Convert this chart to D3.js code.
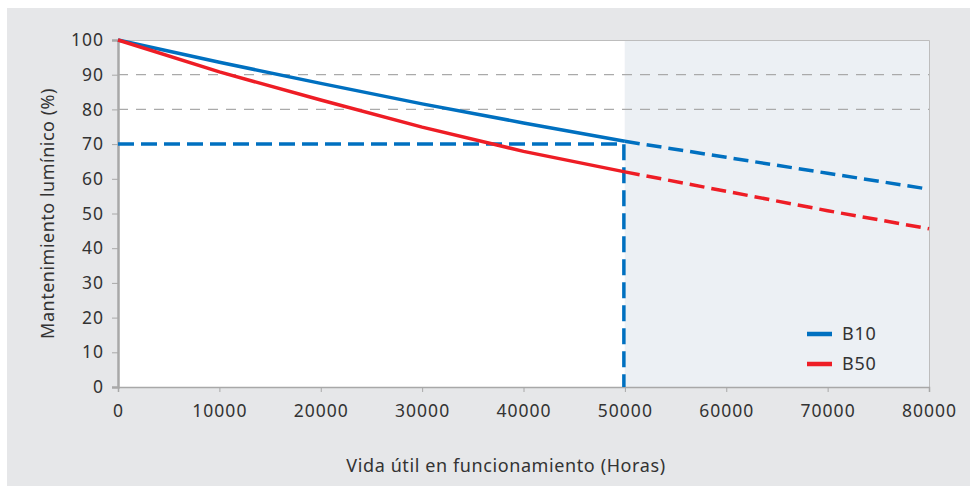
<!DOCTYPE html>
<html>
<head>
<meta charset="utf-8">
<script src="https://cdn.jsdelivr.net/npm/d3@7"></script>
<style>
  body { margin: 0; background: #fff; }
  svg text { font-family: "Noto Sans", "Open Sans", sans-serif; fill: #333; }
</style>
</head>
<body>
<svg id="chart" width="970" height="487"></svg>
<script>
// hours (x) and lumen maintenance (%)
const hours = [0, 10000, 20000, 30000, 40000, 50000]
const hoursExt = [50000, 60000, 70000, 80000]
const b10 = [100, 93.6, 87.5, 81.6, 76.1, 70.8]
const b10Ext = [70.8, 66.2, 61.6, 57.0]
const b50 = [100, 90.8, 82.7, 74.9, 67.9, 62.0]
const b50Ext = [62.0, 56.4, 50.8, 45.6]
const xTicks = [0, 10000, 20000, 30000, 40000, 50000, 60000, 70000, 80000]
const yTicks = [0, 10, 20, 30, 40, 50, 60, 70, 80, 90, 100]
const gridValues = [80, 90]
const ratedLife = 50000
const ratedLevel = 70
const legendItems = [{ name: "B10", color: "#0070c0" }, { name: "B50", color: "#ee1d25" }]

const svg = d3.select("#chart")
const pLeft = 118, pRight = 929, pTop = 40, pBottom = 387

const x = d3.scaleLinear().domain([0, 80000]).range([pLeft, pRight])
const y = d3.scaleLinear().domain([0, 100]).range([pBottom, pTop])

// backgrounds
svg.append("rect").attr("x", 7).attr("y", 8).attr("width", 963).attr("height", 478).attr("fill", "#e6e7e9")
svg.append("rect").attr("x", pLeft).attr("y", pTop).attr("width", x(ratedLife) - pLeft).attr("height", pBottom - pTop).attr("fill", "#ffffff")
svg.append("rect").attr("x", x(ratedLife)).attr("y", pTop).attr("width", pRight - x(ratedLife)).attr("height", pBottom - pTop).attr("fill", "#ecf0f4")

// frame top + right
svg.append("path")
  .attr("d", `M${pLeft},${pTop + 0.5}H${pRight + 0.5}V${pBottom}`)
  .attr("fill", "none").attr("stroke", "#bdbdbd").attr("stroke-width", 1)

// grid
svg.selectAll(".grid").data(gridValues).enter().append("line")
  .attr("x1", pLeft).attr("x2", pRight)
  .attr("y1", d => y(d)).attr("y2", d => y(d))
  .attr("stroke", "#aaaaaa").attr("stroke-width", 1.3).attr("stroke-dasharray", "10,8")

// axes
const yAxis = svg.append("g").attr("transform", `translate(${pLeft},0)`)
  .call(d3.axisLeft(y).tickValues(yTicks).tickSize(6).tickPadding(8))
const xAxis = svg.append("g").attr("transform", `translate(0,${pBottom})`)
  .call(d3.axisBottom(x).tickValues(xTicks).tickFormat(d3.format("d")).tickSize(5).tickPadding(13))
for (const ax of [xAxis, yAxis]) {
  ax.select(".domain").attr("stroke", "#a8a8a8").attr("stroke-width", 1.5)
  ax.selectAll(".tick line").attr("stroke", "#a8a8a8")
  ax.selectAll("text").attr("font-size", 17.5).attr("letter-spacing", "1px").attr("fill", "#333")
}
yAxis.select(".domain").attr("stroke-width", 2.5)

// rated life reference lines
svg.append("path")
  .attr("d", `M${pLeft},${y(ratedLevel)}H${x(ratedLife) - 1}V${pBottom}`)
  .attr("fill", "none").attr("stroke", "#0070c0").attr("stroke-width", 3.5)
  .attr("stroke-dasharray", "16,7")

// curves
const line = d3.line().x(d => x(d[0])).y(d => y(d[1]))
function curve(xs, ys, color, dashed) {
  svg.append("path")
    .datum(d3.zip(xs, ys))
    .attr("d", line)
    .attr("fill", "none").attr("stroke", color).attr("stroke-width", 3.5)
    .attr("stroke-dasharray", dashed ? "15,7" : null)
}
curve(hours, b10, legendItems[0].color, false)
curve(hours, b50, legendItems[1].color, false)
curve(hoursExt, b10Ext, legendItems[0].color, true)
curve(hoursExt, b50Ext, legendItems[1].color, true)

// legend
const leg = svg.selectAll(".leg").data(legendItems).enter().append("g")
  .attr("transform", (d, i) => `translate(807,${334 + i * 30})`)
leg.append("line").attr("x1", 0).attr("x2", 25).attr("stroke", d => d.color).attr("stroke-width", 4.5)
leg.append("text").attr("x", 35).attr("dy", "0.35em").attr("font-size", 18).attr("letter-spacing", "0.8px").text(d => d.name)

// titles
svg.append("text").attr("x", 506).attr("y", 472).attr("text-anchor", "middle")
  .attr("font-size", 18).attr("letter-spacing", "0.6px").text("Vida útil en funcionamiento (Horas)")
svg.append("text").attr("transform", `translate(54,${(pTop + pBottom) / 2}) rotate(-90)`).attr("text-anchor", "middle")
  .attr("font-size", 18).attr("letter-spacing", "0.5px").text("Mantenimiento lumínico (%)")
</script>
</body>
</html>
